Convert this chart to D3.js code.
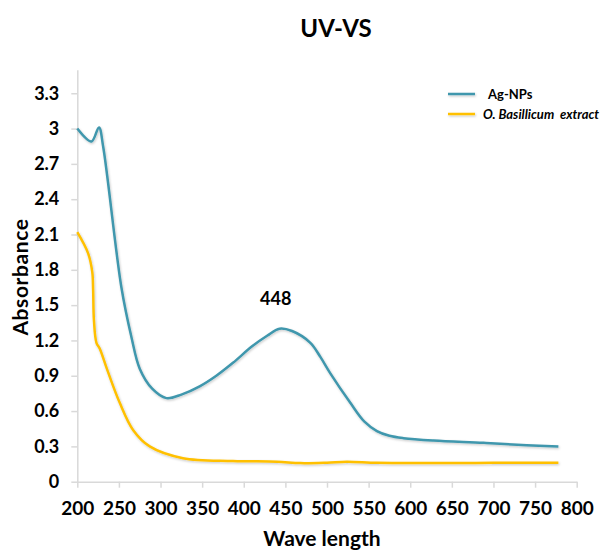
<!DOCTYPE html>
<html>
<head>
<meta charset="utf-8">
<script src="https://cdn.jsdelivr.net/npm/d3@7"></script>
<style>
  body { margin: 0; background: #fff; }
  text { font-family: Lato, "Open Sans", sans-serif; font-weight: bold; fill: #000; }
</style>
</head>
<body>
<div id="chart"></div>
<script>
// wavelength (nm) and absorbance
const agWave = [200, 217, 226, 231, 253, 265, 275, 290, 307, 325, 347, 367, 387, 410, 428, 443, 458, 480, 492, 504, 528, 545, 560, 575, 592, 628, 688, 740, 778];
const agAbs  = [3.00, 2.89, 3.01, 2.85, 1.65, 1.23, 0.96, 0.79, 0.71, 0.74, 0.81, 0.90, 1.01, 1.15, 1.24, 1.30, 1.28, 1.18, 1.06, 0.92, 0.67, 0.51, 0.43, 0.39, 0.37, 0.35, 0.33, 0.31, 0.30];

const exWave = [200, 213, 218, 219, 220, 223, 227, 236, 251, 267, 287, 327, 387, 440, 468, 500, 524, 560, 624, 700, 778];
const exAbs  = [2.12, 1.94, 1.78, 1.63, 1.37, 1.18, 1.13, 0.95, 0.67, 0.44, 0.30, 0.20, 0.176, 0.17, 0.158, 0.162, 0.17, 0.16, 0.158, 0.16, 0.16];

const xTicks = [200, 250, 300, 350, 400, 450, 500, 550, 600, 650, 700, 750, 800];
const yTicks = [0, 0.3, 0.6, 0.9, 1.2, 1.5, 1.8, 2.1, 2.4, 2.7, 3, 3.3];

const seriesNames = ["Ag-NPs", "O. Basillicum  extract"];
const peakWave = 448;
const peakAbs = 1.30;

const width = 612, height = 551;

const svg = d3.select("#chart")
  .append("svg")
  .attr("width", width)
  .attr("height", height);

// soft shadow like the office export
svg.append("defs")
  .append("filter")
  .attr("id", "shadow")
  .attr("filterUnits", "userSpaceOnUse")
  .attr("x", 0).attr("y", 0)
  .attr("width", width).attr("height", height)
  .append("feDropShadow")
  .attr("dx", 0.8).attr("dy", 1.2)
  .attr("stdDeviation", 0.8)
  .attr("flood-color", "#000")
  .attr("flood-opacity", 0.22);

const x = d3.scaleLinear().domain([200, 800]).range([77.3, 576.7]);
const y = d3.scaleLinear().domain([0, 3.5]).range([481.7, 69.7]);

// y axis
const yAxis = svg.append("g")
  .attr("transform", `translate(${x(200)},0)`)
  .call(d3.axisLeft(y).tickValues(yTicks).tickSize(6).tickSizeOuter(0).tickPadding(12).tickFormat(d => d));
yAxis.select(".domain").attr("stroke", "#d9d9d9").attr("stroke-width", 1.5);
yAxis.selectAll(".tick line").attr("stroke", "#d9d9d9").attr("stroke-width", 1.5);
yAxis.selectAll("text").style("font-size", "18px").style("font-family", "Lato, sans-serif").attr("font-weight", "bold");

// x axis
const xAxis = svg.append("g")
  .attr("transform", `translate(0,${y(0)})`)
  .call(d3.axisBottom(x).tickValues(xTicks).tickSize(6).tickSizeOuter(0).tickPadding(14));
xAxis.select(".domain").attr("stroke", "#d9d9d9").attr("stroke-width", 1.5);
xAxis.selectAll(".tick line").attr("stroke", "#d9d9d9").attr("stroke-width", 1.5);
xAxis.selectAll("text").style("font-size", "19px").style("font-family", "Lato, sans-serif").attr("font-weight", "bold");

// curves
const line = d3.line()
  .x(d => x(d[0]))
  .y(d => y(d[1]))
  .curve(d3.curveCatmullRom.alpha(0.5));

const agData = agWave.map((w, i) => [w, agAbs[i]]);
const exData = exWave.map((w, i) => [w, exAbs[i]]);

svg.append("path")
  .datum(exData)
  .attr("d", line)
  .attr("fill", "none")
  .attr("stroke", "#ffc000")
  .attr("stroke-width", 2.5)
  .attr("filter", "url(#shadow)");

svg.append("path")
  .datum(agData)
  .attr("d", line)
  .attr("fill", "none")
  .attr("stroke", "#3f97ad")
  .attr("stroke-width", 2.5)
  .attr("filter", "url(#shadow)");

// peak label
svg.append("text")
  .attr("x", x(peakWave) - 8)
  .attr("y", y(peakAbs) - 24)
  .attr("text-anchor", "middle")
  .style("font-size", "18px")
  .text(peakWave);

// title
svg.append("text")
  .attr("x", 336)
  .attr("y", 37)
  .attr("text-anchor", "middle")
  .style("font-size", "24px")
  .text("UV-VS");

// axis titles
svg.append("text")
  .attr("transform", "translate(28,277) rotate(-90)")
  .attr("text-anchor", "middle")
  .style("font-size", "21px")
  .style("letter-spacing", "0.6px")
  .text("Absorbance");

svg.append("text")
  .attr("x", 322)
  .attr("y", 546)
  .attr("text-anchor", "middle")
  .style("font-size", "21px")
  .text("Wave length");

// legend
const legend = svg.append("g");
const legendColors = ["#3f97ad", "#ffc000"];
seriesNames.forEach((name, i) => {
  const ly = 94 + i * 20;
  legend.append("line")
    .attr("x1", 448).attr("x2", 475)
    .attr("y1", ly).attr("y2", ly)
    .attr("stroke", legendColors[i])
    .attr("stroke-width", 2.5)
    .attr("filter", "url(#shadow)");
  legend.append("text")
    .attr("x", i === 0 ? 488 : 483)
    .attr("y", ly + 4.5)
    .style("font-size", "13px")
    .style("font-style", i === 0 ? "normal" : "italic")
    .style("white-space", "pre")
    .text(name);
});
</script>
</body>
</html>
